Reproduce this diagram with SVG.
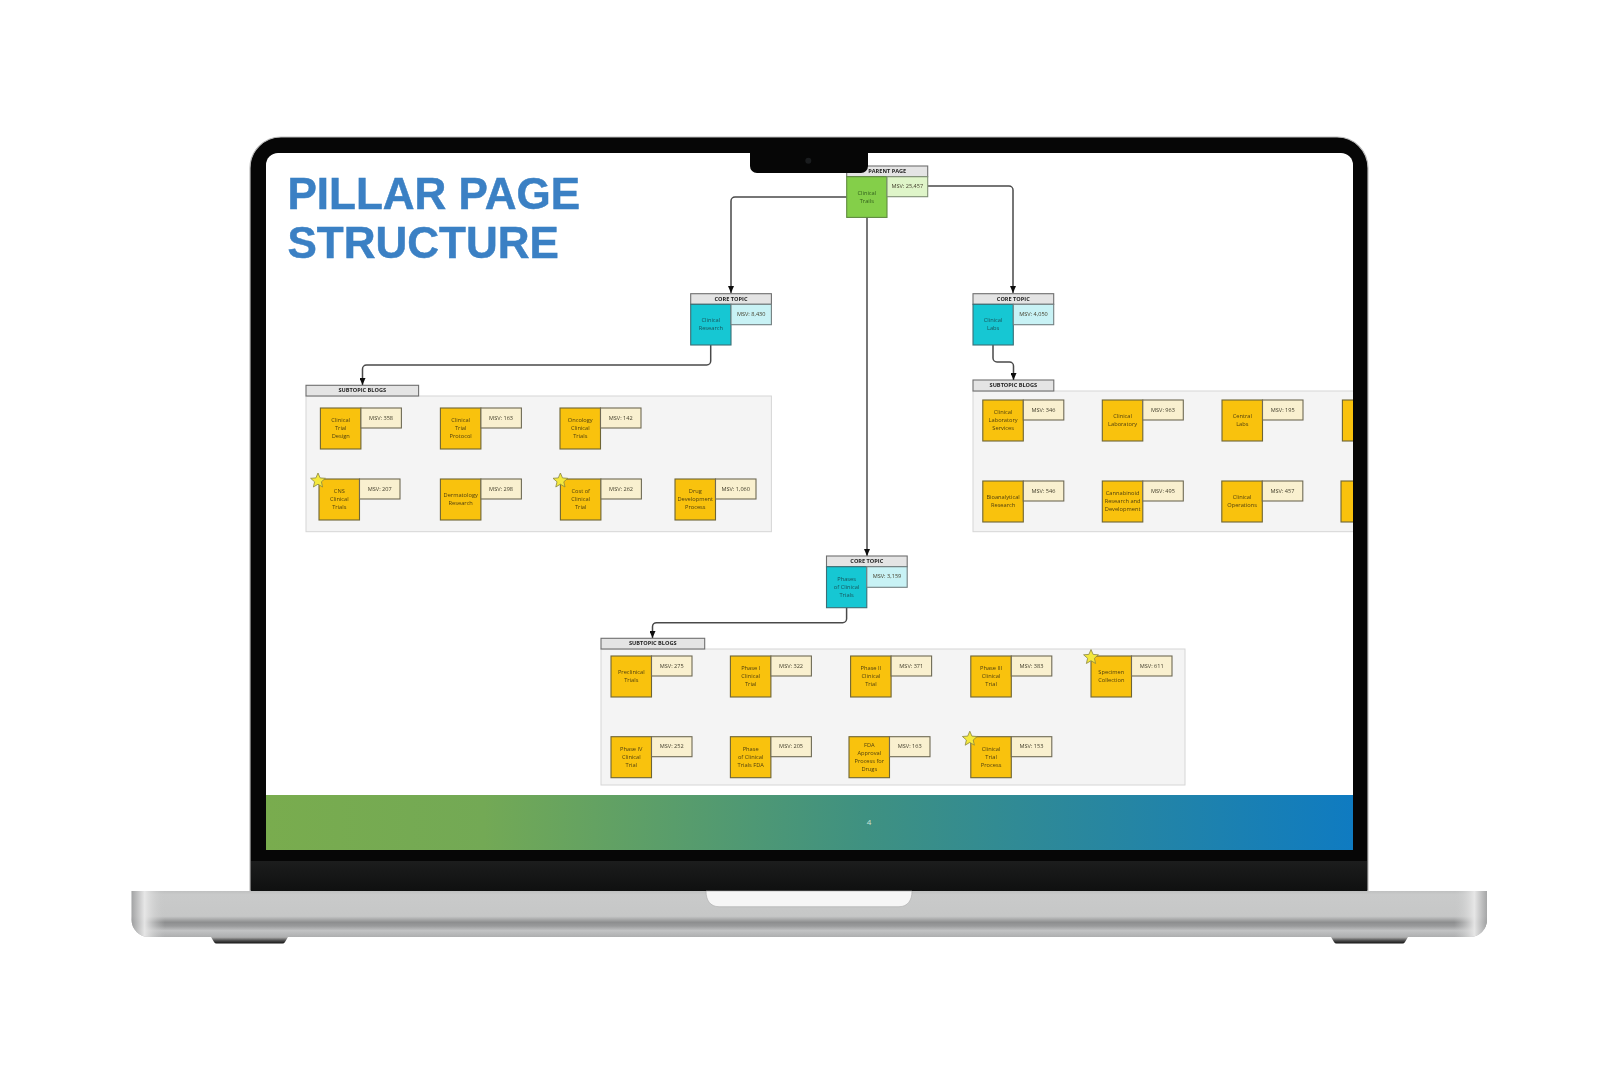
<svg xmlns="http://www.w3.org/2000/svg" width="1618" height="1080" viewBox="0 0 1618 1080">
<style>
text{font-family:"Open Sans","Noto Sans","Liberation Sans",sans-serif}
.sq{fill:#f9c20f;stroke:#6e6535;stroke-width:1.1}
.ms{fill:#f9f0cf;stroke:#6f6a54;stroke-width:1.1}
.tq{fill:#14c7d3;stroke:#3d6e75;stroke-width:1.1}
.tm{fill:#c8f2f5;stroke:#737f80;stroke-width:1.1}
.gq{fill:#84cf4a;stroke:#5f8a3e;stroke-width:1.1}
.gm{fill:#dff5c9;stroke:#7f8f74;stroke-width:1.1}
.hd{fill:#e4e4e4;stroke:#6f6f6f;stroke-width:1.1}
.pn{fill:#f4f4f4;stroke:#d6d6d6;stroke-width:1}
.l{font-size:5.7px;text-anchor:middle;fill:#4f3f0c}
.t{font-size:5.7px;text-anchor:middle;fill:#14555c}
.g{font-size:5.7px;text-anchor:middle;fill:#33601c}
.m{font-size:5.6px;text-anchor:middle;fill:#45412e}
.h{font-size:5.6px;font-weight:700;text-anchor:middle;fill:#222}
.c{fill:none;stroke:#4a4a4a;stroke-width:1.5;stroke-linejoin:round}
.s{fill:#f4e83c;stroke:#8a8640;stroke-width:.8}
</style>
<defs>
<linearGradient id="foot" x1="0" x2="1" y1="0" y2="0"><stop offset="0" stop-color="#79ac4e"/><stop offset=".2" stop-color="#73a955"/><stop offset=".55" stop-color="#3f9181"/><stop offset="1" stop-color="#0f7bc1"/></linearGradient>
<linearGradient id="chin" x1="0" x2="0" y1="0" y2="1"><stop offset="0" stop-color="#1c1d1d"/><stop offset="1" stop-color="#0f1010"/></linearGradient>
<linearGradient id="base" x1="0" x2="0" y1="0" y2="1"><stop offset="0" stop-color="#bfc0c0"/><stop offset=".08" stop-color="#c9caca"/><stop offset=".55" stop-color="#c6c7c7"/><stop offset=".68" stop-color="#8d8e8f"/><stop offset=".76" stop-color="#999a9b"/><stop offset=".86" stop-color="#c2c3c4"/><stop offset="1" stop-color="#adaeaf"/></linearGradient>
<linearGradient id="endL" x1="0" x2="1" y1="0" y2="0"><stop offset="0" stop-color="#9c9d9e" stop-opacity=".9"/><stop offset=".4" stop-color="#e8e8e8" stop-opacity=".95"/><stop offset="1" stop-color="#c8c9c9" stop-opacity="0"/></linearGradient>
<linearGradient id="endR" x1="1" x2="0" y1="0" y2="0"><stop offset="0" stop-color="#9c9d9e" stop-opacity=".9"/><stop offset=".4" stop-color="#e8e8e8" stop-opacity=".95"/><stop offset="1" stop-color="#c8c9c9" stop-opacity="0"/></linearGradient>
<linearGradient id="feet" x1="0" x2="0" y1="0" y2="1"><stop offset="0" stop-color="#b5b5b5"/><stop offset=".5" stop-color="#555"/><stop offset="1" stop-color="#111"/></linearGradient>
<clipPath id="scr"><path d="M266 795V165a12 12 0 0 1 12-12H1341a12 12 0 0 1 12 12V795Z"/></clipPath>
<clipPath id="bs"><path d="M131.600 891H1487V920a17 17 0 0 1-17 17H148.600a17 17 0 0 1-17-17Z"/></clipPath>
<filter id="soft" x="-2%" y="-2%" width="104%" height="104%"><feGaussianBlur stdDeviation=".45"/></filter>
<filter id="softT" x="-2%" y="-5%" width="104%" height="110%"><feGaussianBlur stdDeviation=".4"/></filter>
<marker id="a" viewBox="0 0 7 6" refX="7" refY="3" markerWidth="7" markerHeight="6" markerUnits="userSpaceOnUse" orient="auto"><path d="M0 0L7 3L0 6Z" fill="#111"/></marker>
<path id="star" d="M0-7.500 2.100-2.600 7.400-2.200 3.400 1.300 4.600 6.500 0 3.700-4.600 6.500-3.400 1.300-7.400-2.200-2.100-2.600Z"/>
</defs>
<rect width="1618" height="1080" fill="#fff"/>
<g id="laptop">
<path d="M211 937H288L285 942a3 3 0 0 1-3 1.500H217a3 3 0 0 1-3-1.500Z" fill="url(#feet)"/>
<path d="M1331 937H1408L1405 942a3 3 0 0 1-3 1.500H1337a3 3 0 0 1-3-1.500Z" fill="url(#feet)"/>
<path d="M250 891V168a31 31 0 0 1 31-31H1337a31 31 0 0 1 31 31V891Z" fill="#060606" stroke="#bdbdbd" stroke-width="1.200"/>
<rect x="251" y="861" width="1116" height="30" fill="url(#chin)"/>
<g clip-path="url(#bs)">
<rect x="131" y="891" width="1357" height="46" fill="url(#base)"/>
<rect x="131" y="891" width="34" height="46" fill="url(#endL)"/>
<rect x="1454" y="891" width="34" height="46" fill="url(#endR)"/>
</g>
<path d="M706 891H912C912 900 908 906.700 899 906.700H719C710 906.700 706 900 706 891Z" fill="#f6f6f6" stroke="#a9a9a9" stroke-width=".6"/>
<path d="M266 795V165a12 12 0 0 1 12-12H1341a12 12 0 0 1 12 12V795Z" fill="#fff"/>
<rect x="266" y="795" width="1087" height="55" fill="url(#foot)"/>
</g>
<g filter="url(#softT)" id="title">
<text x="287.500" y="208.500" font-size="44" font-weight="700" fill="#3a80c4" stroke="#3a80c4" stroke-width=".5" style="font-family:'Liberation Sans',Arial,sans-serif">PILLAR PAGE</text>
<text x="287.500" y="257.500" font-size="44" font-weight="700" fill="#3a80c4" stroke="#3a80c4" stroke-width=".5" style="font-family:'Liberation Sans',Arial,sans-serif">STRUCTURE</text>
</g>
<text x="869" y="825" font-size="8" text-anchor="middle" fill="#cfe3d8">4</text>
<g clip-path="url(#scr)"><g filter="url(#soft)">
<g id="panels">
<rect class="pn" x="306" y="396" width="465.400" height="135.700"/>
<rect class="hd" x="306" y="385.300" width="112.600" height="10.700"/>
<text class="h" x="362.300" y="392.200">SUBTOPIC BLOGS</text>
<rect class="pn" x="973" y="391" width="400" height="140.700"/>
<rect class="hd" x="973" y="380" width="80.800" height="11"/>
<text class="h" x="1013.400" y="387">SUBTOPIC BLOGS</text>
<rect class="pn" x="601" y="649" width="584" height="136"/>
<rect class="hd" x="601" y="638.300" width="103.700" height="10.700"/>
<text class="h" x="652.800" y="645.200">SUBTOPIC BLOGS</text>
</g>
<g id="connectors">
<path class="c" d="M846.700 197H735a4 4 0 0 0-4 4V293" marker-end="url(#a)"/>
<path class="c" d="M927.700 186H1009a4 4 0 0 1 4 4V293" marker-end="url(#a)"/>
<path class="c" d="M867 217.300V556" marker-end="url(#a)"/>
<path class="c" d="M710.700 345V361a4 4 0 0 1-4 4H366.500a4 4 0 0 0-4 4V385" marker-end="url(#a)"/>
<path class="c" d="M993 345V358a4 4 0 0 0 4 4H1009.500a4 4 0 0 1 4 4V380" marker-end="url(#a)"/>
<path class="c" d="M846.600 607.700V618.700a4 4 0 0 1-4 4H656.500a4 4 0 0 0-4 4V638" marker-end="url(#a)"/>
</g>
<g id="parent-clinical-trails" transform="translate(846.700,176.700)">
<rect class="hd" x="0" y="-10.700" width="81" height="10.700"/><text class="h" x="40.500" y="-3.500">PARENT PAGE</text>
<rect class="gq" width="40.300" height="40.700"/><rect class="gm" x="40.300" width="40.700" height="20"/>
<text class="g" x="20.100" y="18">Clinical</text><text class="g" x="20.100" y="26">Trails</text>
<text class="m" x="60.600" y="11.500">MSV: 25,457</text>
</g>
<g id="core-clinical-research" transform="translate(690.700,304.300)">
<rect class="hd" x="0" y="-10.600" width="80.700" height="10.600"/><text class="h" x="40.300" y="-3.500">CORE TOPIC</text>
<rect class="tq" width="40.300" height="40.700"/><rect class="tm" x="40.300" width="40.400" height="20.400"/>
<text class="t" x="20.100" y="18">Clinical</text><text class="t" x="20.100" y="26">Research</text>
<text class="m" x="60.500" y="11.500">MSV: 8,430</text>
</g>
<g id="core-clinical-labs" transform="translate(973,304.300)">
<rect class="hd" x="0" y="-10.600" width="80.700" height="10.600"/><text class="h" x="40.300" y="-3.500">CORE TOPIC</text>
<rect class="tq" width="40.300" height="40.700"/><rect class="tm" x="40.300" width="40.400" height="20.400"/>
<text class="t" x="20.100" y="18">Clinical</text><text class="t" x="20.100" y="26">Labs</text>
<text class="m" x="60.500" y="11.500">MSV: 4,050</text>
</g>
<g id="core-phases" transform="translate(826.500,566.700)">
<rect class="hd" x="0" y="-10.700" width="80.700" height="10.700"/><text class="h" x="40.300" y="-3.500">CORE TOPIC</text>
<rect class="tq" width="40.300" height="41"/><rect class="tm" x="40.300" width="40.400" height="20.600"/>
<text class="t" x="20.100" y="14">Phases</text><text class="t" x="20.100" y="22">of Clinical</text><text class="t" x="20.100" y="30">Trials</text>
<text class="m" x="60.500" y="11.500">MSV: 3,159</text>
</g>
<g id="a1" transform="translate(320.400,408)"><rect class="sq" width="40.500" height="41"/><rect class="ms" x="40.500" width="40.500" height="20"/><text class="l" x="20.300" y="14">Clinical</text><text class="l" x="20.300" y="22">Trial</text><text class="l" x="20.300" y="30">Design</text><text class="m" x="60.700" y="11.500">MSV: 358</text></g>
<g id="a2" transform="translate(440.400,408)"><rect class="sq" width="40.500" height="41"/><rect class="ms" x="40.500" width="40.500" height="20"/><text class="l" x="20.300" y="14">Clinical</text><text class="l" x="20.300" y="22">Trial</text><text class="l" x="20.300" y="30">Protocol</text><text class="m" x="60.700" y="11.500">MSV: 163</text></g>
<g id="a3" transform="translate(560,408)"><rect class="sq" width="40.500" height="41"/><rect class="ms" x="40.500" width="40.500" height="20"/><text class="l" x="20.300" y="14">Oncology</text><text class="l" x="20.300" y="22">Clinical</text><text class="l" x="20.300" y="30">Trials</text><text class="m" x="60.700" y="11.500">MSV: 142</text></g>
<g id="a4" transform="translate(319,479)"><rect class="sq" width="40.500" height="41"/><rect class="ms" x="40.500" width="40.500" height="20"/><text class="l" x="20.300" y="14">CNS</text><text class="l" x="20.300" y="22">Clinical</text><text class="l" x="20.300" y="30">Trials</text><text class="m" x="60.700" y="11.500">MSV: 207</text><use href="#star" class="s" x="-1" y="1.500"/></g>
<g id="a5" transform="translate(440.400,479)"><rect class="sq" width="40.500" height="41"/><rect class="ms" x="40.500" width="40.500" height="20"/><text class="l" x="20.300" y="18">Dermatology</text><text class="l" x="20.300" y="26">Research</text><text class="m" x="60.700" y="11.500">MSV: 298</text></g>
<g id="a6" transform="translate(560.400,479)"><rect class="sq" width="40.500" height="41"/><rect class="ms" x="40.500" width="40.500" height="20"/><text class="l" x="20.300" y="14">Cost of</text><text class="l" x="20.300" y="22">Clinical</text><text class="l" x="20.300" y="30">Trial</text><text class="m" x="60.700" y="11.500">MSV: 262</text><use href="#star" class="s" x="0" y="1.500"/></g>
<g id="a7" transform="translate(675,479)"><rect class="sq" width="40.500" height="41"/><rect class="ms" x="40.500" width="40.500" height="20"/><text class="l" x="20.300" y="14">Drug</text><text class="l" x="20.300" y="22">Development</text><text class="l" x="20.300" y="30">Process</text><text class="m" x="60.700" y="11.500">MSV: 1,060</text></g>
<g id="b1" transform="translate(982.800,400)"><rect class="sq" width="40.500" height="41"/><rect class="ms" x="40.500" width="40.500" height="20"/><text class="l" x="20.300" y="14">Clinical</text><text class="l" x="20.300" y="22">Laboratory</text><text class="l" x="20.300" y="30">Services</text><text class="m" x="60.700" y="11.500">MSV: 346</text></g>
<g id="b2" transform="translate(1102.300,400)"><rect class="sq" width="40.500" height="41"/><rect class="ms" x="40.500" width="40.500" height="20"/><text class="l" x="20.300" y="18">Clinical</text><text class="l" x="20.300" y="26">Laboratory</text><text class="m" x="60.700" y="11.500">MSV: 963</text></g>
<g id="b3" transform="translate(1222,400)"><rect class="sq" width="40.500" height="41"/><rect class="ms" x="40.500" width="40.500" height="20"/><text class="l" x="20.300" y="18">Central</text><text class="l" x="20.300" y="26">Labs</text><text class="m" x="60.700" y="11.500">MSV: 195</text></g>
<g id="b4" transform="translate(1342.400,400)"><rect class="sq" width="40.500" height="41"/></g>
<g id="b5" transform="translate(982.800,481)"><rect class="sq" width="40.500" height="41"/><rect class="ms" x="40.500" width="40.500" height="20"/><text class="l" x="20.300" y="18">Bioanalytical</text><text class="l" x="20.300" y="26">Research</text><text class="m" x="60.700" y="11.500">MSV: 546</text></g>
<g id="b6" transform="translate(1102.300,481)"><rect class="sq" width="40.500" height="41"/><rect class="ms" x="40.500" width="40.500" height="20"/><text class="l" x="20.300" y="14">Cannabinoid</text><text class="l" x="20.300" y="22">Research and</text><text class="l" x="20.300" y="30">Development</text><text class="m" x="60.700" y="11.500">MSV: 495</text></g>
<g id="b7" transform="translate(1221.800,481)"><rect class="sq" width="40.500" height="41"/><rect class="ms" x="40.500" width="40.500" height="20"/><text class="l" x="20.300" y="18">Clinical</text><text class="l" x="20.300" y="26">Operations</text><text class="m" x="60.700" y="11.500">MSV: 457</text></g>
<g id="b8" transform="translate(1341,481)"><rect class="sq" width="40.500" height="41"/></g>
<g id="c1" transform="translate(611,656)"><rect class="sq" width="40.500" height="41"/><rect class="ms" x="40.500" width="40.500" height="20"/><text class="l" x="20.300" y="18">Preclinical</text><text class="l" x="20.300" y="26">Trials</text><text class="m" x="60.700" y="11.500">MSV: 275</text></g>
<g id="c2" transform="translate(730.400,656)"><rect class="sq" width="40.500" height="41"/><rect class="ms" x="40.500" width="40.500" height="20"/><text class="l" x="20.300" y="14">Phase I</text><text class="l" x="20.300" y="22">Clinical</text><text class="l" x="20.300" y="30">Trial</text><text class="m" x="60.700" y="11.500">MSV: 322</text></g>
<g id="c3" transform="translate(850.600,656)"><rect class="sq" width="40.500" height="41"/><rect class="ms" x="40.500" width="40.500" height="20"/><text class="l" x="20.300" y="14">Phase II</text><text class="l" x="20.300" y="22">Clinical</text><text class="l" x="20.300" y="30">Trial</text><text class="m" x="60.700" y="11.500">MSV: 371</text></g>
<g id="c4" transform="translate(970.800,656)"><rect class="sq" width="40.500" height="41"/><rect class="ms" x="40.500" width="40.500" height="20"/><text class="l" x="20.300" y="14">Phase III</text><text class="l" x="20.300" y="22">Clinical</text><text class="l" x="20.300" y="30">Trial</text><text class="m" x="60.700" y="11.500">MSV: 383</text></g>
<g id="c5" transform="translate(1091,656)"><rect class="sq" width="40.500" height="41"/><rect class="ms" x="40.500" width="40.500" height="20"/><text class="l" x="20.300" y="18">Specimen</text><text class="l" x="20.300" y="26">Collection</text><text class="m" x="60.700" y="11.500">MSV: 611</text><use href="#star" class="s" x="0" y="1"/></g>
<g id="c6" transform="translate(611,736.700)"><rect class="sq" width="40.500" height="41"/><rect class="ms" x="40.500" width="40.500" height="20"/><text class="l" x="20.300" y="14">Phase IV</text><text class="l" x="20.300" y="22">Clinical</text><text class="l" x="20.300" y="30">Trial</text><text class="m" x="60.700" y="11.500">MSV: 252</text></g>
<g id="c7" transform="translate(730.400,736.700)"><rect class="sq" width="40.500" height="41"/><rect class="ms" x="40.500" width="40.500" height="20"/><text class="l" x="20.300" y="14">Phase</text><text class="l" x="20.300" y="22">of Clinical</text><text class="l" x="20.300" y="30">Trials FDA</text><text class="m" x="60.700" y="11.500">MSV: 205</text></g>
<g id="c8" transform="translate(849,736.700)"><rect class="sq" width="40.500" height="41"/><rect class="ms" x="40.500" width="40.500" height="20"/><text class="l" x="20.300" y="10">FDA</text><text class="l" x="20.300" y="18">Approval</text><text class="l" x="20.300" y="26">Process for</text><text class="l" x="20.300" y="34">Drugs</text><text class="m" x="60.700" y="11.500">MSV: 163</text></g>
<g id="c9" transform="translate(970.800,736.700)"><rect class="sq" width="40.500" height="41"/><rect class="ms" x="40.500" width="40.500" height="20"/><text class="l" x="20.300" y="14">Clinical</text><text class="l" x="20.300" y="22">Trial</text><text class="l" x="20.300" y="30">Process</text><text class="m" x="60.700" y="11.500">MSV: 153</text><use href="#star" class="s" x="-1" y="2"/></g>
</g></g>
<g id="notch">
<path d="M746 153H750V166a7 7 0 0 0 7 7H861a7 7 0 0 0 7-7V153H872Z" fill="#060606"/>
<rect x="750" y="150" width="118" height="8" fill="#060606"/>
<circle cx="808.300" cy="160.700" r="3" fill="#1a1c1e"/>
</g>
</svg>
